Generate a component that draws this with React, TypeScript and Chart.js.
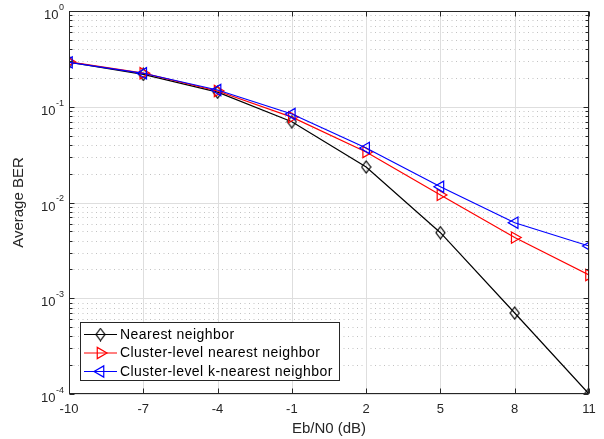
import React, { useEffect, useRef } from 'react';
import { Chart, registerables } from 'chart.js';

Chart.register(...registerables);

// ---- data ----
const snrDb = [-10, -7, -4, -1, 2, 5, 8, 11];
const nearestNeighbor = [0.292, 0.218, 0.142, 0.0698, 0.0235, 0.00484, 0.000701, 0.0001];
const clusterNearest = [0.295, 0.224, 0.146, 0.078, 0.0337, 0.012, 0.0043, 0.00175];
const clusterKNearest = [0.291, 0.2236, 0.1496, 0.084, 0.0371, 0.0146, 0.00615, 0.00351];

const xTicks = [-10, -7, -4, -1, 2, 5, 8, 11];
const yDecades = [-4, -3, -2, -1, 0];
const seriesNames = ['Nearest neighbor', 'Cluster-level nearest neighbor', 'Cluster-level k-nearest neighbor'];
const seriesColors = ['#000000', '#ff0000', '#0000ff'];
const xTitle = 'Eb/N0 (dB)';
const yTitle = 'Average BER';

const FONT = '"Liberation Sans", Arial, Helvetica, sans-serif';
const AXIS_COLOR = '#262626';

function makeDiamond(color: string): HTMLCanvasElement {
  const c = document.createElement('canvas');
  c.width = 11;
  c.height = 14;
  const g = c.getContext('2d')!;
  g.strokeStyle = color;
  g.lineWidth = 1.2;
  g.beginPath();
  g.moveTo(5.5, 1);
  g.lineTo(10, 7);
  g.lineTo(5.5, 13);
  g.lineTo(1, 7);
  g.closePath();
  g.stroke();
  return c;
}

function drawTriangle(ctx: CanvasRenderingContext2D, x: number, y: number, r: number, rotDeg: number) {
  let rad = (rotDeg * Math.PI) / 180;
  ctx.beginPath();
  for (let i = 0; i < 3; i++) {
    const px = x + Math.sin(rad) * r;
    const py = y - Math.cos(rad) * r;
    if (i === 0) ctx.moveTo(px, py);
    else ctx.lineTo(px, py);
    rad += (2 * Math.PI) / 3;
  }
  ctx.closePath();
  ctx.stroke();
}

export default function App() {
  const canvasRef = useRef<HTMLCanvasElement | null>(null);

  useEffect(() => {
    const canvas = canvasRef.current;
    if (!canvas) return;
    const diamond = makeDiamond(seriesColors[0]);

    const matlabPlugin = {
      id: 'matlabAxes',
      beforeDatasetsDraw(chart: any) {
        const { ctx, chartArea: a, scales } = chart;
        const xs = scales.x;
        const ys = scales.y;
        ctx.save();
        ctx.lineWidth = 1;
        // minor dotted y grid
        ctx.strokeStyle = '#c2c2c2';
        ctx.setLineDash([1, 3.5]);
        for (const d of yDecades) {
          if (d === 0) continue;
          for (let m = 2; m <= 9; m++) {
            const y = Math.round(ys.getPixelForValue(m * Math.pow(10, d))) + 0.5;
            ctx.beginPath();
            ctx.moveTo(a.left, y);
            ctx.lineTo(a.right, y);
            ctx.stroke();
          }
        }
        ctx.setLineDash([]);
        // major grid
        ctx.strokeStyle = '#dedede';
        for (const d of yDecades) {
          const y = Math.round(ys.getPixelForValue(Math.pow(10, d))) + 0.5;
          ctx.beginPath();
          ctx.moveTo(a.left, y);
          ctx.lineTo(a.right, y);
          ctx.stroke();
        }
        for (const v of xTicks) {
          const x = Math.round(xs.getPixelForValue(v)) + 0.5;
          ctx.beginPath();
          ctx.moveTo(x, a.top);
          ctx.lineTo(x, a.bottom);
          ctx.stroke();
        }
        ctx.restore();
      },
      afterDatasetsDraw(chart: any) {
        const { ctx, chartArea: a, scales } = chart;
        const xs = scales.x;
        const ys = scales.y;
        ctx.save();
        ctx.strokeStyle = AXIS_COLOR;
        ctx.lineWidth = 1;
        const L = Math.round(a.left) + 0.5;
        const R = Math.round(a.right) - 0.5;
        const T = Math.round(a.top) + 0.5;
        const B = Math.round(a.bottom) - 0.5;
        ctx.strokeRect(L, T, R - L, B - T);
        // x ticks (inward, top and bottom)
        for (const v of xTicks) {
          const x = Math.round(xs.getPixelForValue(v)) + 0.5;
          ctx.beginPath();
          ctx.moveTo(x, B);
          ctx.lineTo(x, B - 5);
          ctx.moveTo(x, T);
          ctx.lineTo(x, T + 5);
          ctx.stroke();
        }
        // y ticks (major + minor)
        for (const d of yDecades) {
          for (let m = 1; m <= 9; m++) {
            if (d === 0 && m > 1) continue;
            const y = Math.round(ys.getPixelForValue(m * Math.pow(10, d))) + 0.5;
            const len = m === 1 ? 5 : 3;
            ctx.beginPath();
            ctx.moveTo(L, y);
            ctx.lineTo(L + len, y);
            ctx.moveTo(R, y);
            ctx.lineTo(R - len, y);
            ctx.stroke();
          }
        }
        // y tick labels 10^k
        ctx.fillStyle = AXIS_COLOR;
        ctx.textBaseline = 'middle';
        ctx.textAlign = 'right';
        for (const d of yDecades) {
          const y = ys.getPixelForValue(Math.pow(10, d));
          const exp = String(d);
          ctx.font = `9px ${FONT}`;
          const ew = ctx.measureText(exp).width;
          ctx.fillText(exp, 64, y - 3.5);
          ctx.font = `13px ${FONT}`;
          ctx.fillText('10', 64 - ew - 0.5, y + 4.5);
        }
        ctx.restore();
      },
      afterDraw(chart: any) {
        const { ctx } = chart;
        ctx.save();
        // legend box
        ctx.fillStyle = '#ffffff';
        ctx.fillRect(80.5, 322.5, 259, 58);
        ctx.strokeStyle = AXIS_COLOR;
        ctx.lineWidth = 1;
        ctx.strokeRect(80.5, 322.5, 259, 58);
        const rows = [334.5, 353, 371.5];
        rows.forEach((ry, i) => {
          ctx.strokeStyle = seriesColors[i];
          ctx.lineWidth = 1.2;
          ctx.beginPath();
          ctx.moveTo(84, ry);
          ctx.lineTo(117, ry);
          ctx.stroke();
          const cx = 100.5;
          if (i === 0) {
            ctx.drawImage(diamond, cx - 5.5, ry - 7);
          } else {
            drawTriangle(ctx, cx, ry, 6.5, i === 1 ? 90 : -90);
          }
          ctx.fillStyle = '#000000';
          ctx.font = `14px ${FONT}`;
          (ctx as any).letterSpacing = '0.45px';
          ctx.textAlign = 'left';
          ctx.textBaseline = 'middle';
          ctx.fillText(seriesNames[i], 120, ry + 0.5);
          (ctx as any).letterSpacing = '0px';
        });
        ctx.restore();
      },
    };

    const mk = (i: number, values: number[], style: any, rotation: number, order: number) => ({
      label: seriesNames[i],
      data: snrDb.map((x, k) => ({ x, y: values[k] })),
      borderColor: seriesColors[i],
      borderWidth: 1.2,
      pointStyle: style,
      pointRotation: rotation,
      pointRadius: 6.5,
      pointBorderWidth: 1.2,
      pointBorderColor: seriesColors[i],
      pointBackgroundColor: 'rgba(0,0,0,0)',
      fill: false,
      tension: 0,
      order,
    });

    const chart = new Chart(canvas, {
      type: 'line',
      data: {
        datasets: [
          mk(0, nearestNeighbor, diamond, 0, 3),
          mk(1, clusterNearest, 'triangle', 90, 2),
          mk(2, clusterKNearest, 'triangle', -90, 1),
        ],
      },
      options: {
        animation: false,
        responsive: true,
        maintainAspectRatio: false,
        layout: { padding: { top: 11, right: 15, bottom: 0, left: 0 } },
        plugins: { legend: { display: false }, tooltip: { enabled: false } },
        scales: {
          x: {
            type: 'linear',
            min: -10,
            max: 11,
            afterBuildTicks: (s: any) => {
              s.ticks = xTicks.map((v) => ({ value: v }));
            },
            afterFit: (s: any) => {
              s.height = 45;
            },
            grid: { display: false, drawTicks: false },
            border: { display: false },
            ticks: {
              padding: 8,
              color: AXIS_COLOR,
              font: { family: FONT, size: 13 },
              maxRotation: 0,
              autoSkip: false,
              callback: (v: any) => String(v),
            },
            title: {
              display: true,
              text: xTitle,
              color: AXIS_COLOR,
              font: { family: FONT, size: 15 },
              padding: { top: 0, bottom: 1 },
            },
          },
          y: {
            type: 'logarithmic',
            min: 1e-4,
            max: 1,
            afterBuildTicks: (s: any) => {
              s.ticks = yDecades.map((d) => ({ value: Math.pow(10, d) }));
            },
            afterFit: (s: any) => {
              s.width = 69;
            },
            grid: { display: false, drawTicks: false },
            border: { display: false },
            ticks: { display: false },
            title: {
              display: true,
              text: yTitle,
              color: AXIS_COLOR,
              font: { family: FONT, size: 15 },
              padding: { top: 10, bottom: 0 },
            },
          },
        },
      } as any,
      plugins: [matlabPlugin as any],
    });

    return () => chart.destroy();
  }, []);

  return (
    <div style={{ position: 'fixed', left: 0, top: 0, width: 604, height: 439, background: '#ffffff' }}>
      <canvas ref={canvasRef} />
    </div>
  );
}
